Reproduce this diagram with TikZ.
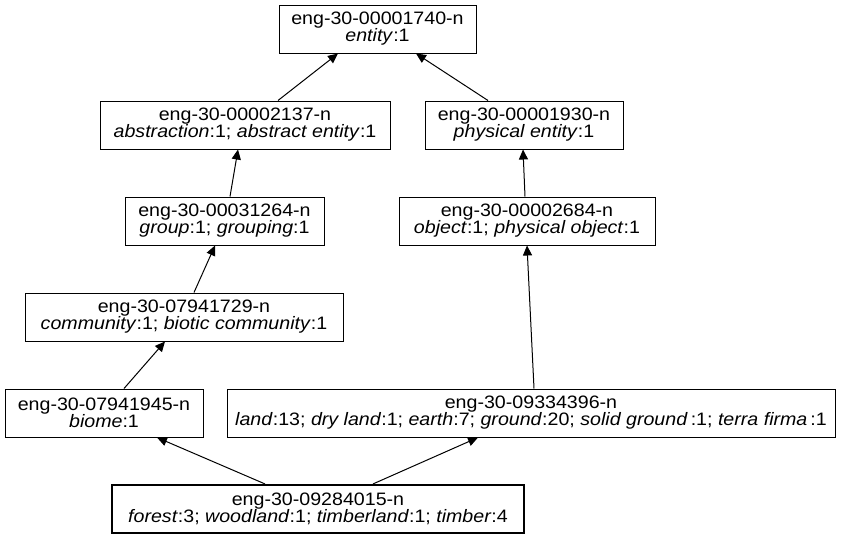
\documentclass[tikz,border=0pt]{standalone}
\usepackage{fontspec}
\setmainfont{Liberation Sans}[FakeStretch=1.09]
\usetikzlibrary{arrows.meta}
\tikzset{
  box/.style={draw=black, line width=0.75pt, fill=white, inner sep=0pt, align=center,
    minimum height=0.75pt*48, font=\fontsize{13.5pt}{12.75pt}\selectfont},
  mainbox/.style={box, line width=1.6pt},
  arr/.style={draw=black, line width=0.75pt, -{Triangle[length=7.5pt,width=6.8pt]}}
}
\begin{document}
\begin{tikzpicture}[x=0.75pt,y=-0.75pt]
\path[use as bounding box, fill=white] (0,0) rectangle (845,539);
\node[box, minimum width=0.75pt*197] (entity) at (377.5,29) {eng-30-00001740-n\\\textit{entity}:1};
\node[box, minimum width=0.75pt*290] (abstr) at (245,125) {eng-30-00002137-n\\\textit{abstraction}:1; \textit{abstract entity}:1};
\node[box, minimum width=0.75pt*198] (phys) at (524,125) {eng-30-00001930-n\\\textit{physical entity}:1};
\node[box, minimum width=0.75pt*199] (group) at (224.5,221) {eng-30-00031264-n\\\textit{group}:1; \textit{grouping}:1};
\node[box, minimum width=0.75pt*256] (object) at (527,221) {eng-30-00002684-n\\\textit{object}:1; \textit{physical object}:1};
\node[box, minimum width=0.75pt*318] (comm) at (184,317) {eng-30-07941729-n\\\textit{community}:1; \textit{biotic community}:1};
\node[box, minimum width=0.75pt*198] (biome) at (104,413) {eng-30-07941945-n\\\textit{biome}:1};
\node[box, minimum width=0.75pt*608] (land) at (531,413) {eng-30-09334396-n\\\textit{land}:13; \textit{dry land}:1; \textit{earth}:7; \textit{ground}:20; \textit{solid ground}\,:1; \textit{terra firma}\,:1};
\node[mainbox, minimum width=0.75pt*412] (forest) at (318,509) {eng-30-09284015-n\\\textit{forest}:3; \textit{woodland}:1; \textit{timberland}:1; \textit{timber}:4};
\draw[arr] ([xshift=0.75pt*33]abstr.north) -- ([xshift=-0.75pt*39.5]entity.south);
\draw[arr] ([xshift=-0.75pt*36]phys.north) -- ([xshift=0.75pt*38.5]entity.south);
\draw[arr] ([xshift=0.75pt*5.5]group.north) -- ([xshift=-0.75pt*7]abstr.south);
\draw[arr] ([xshift=-0.75pt*2]object.north) -- ([xshift=-0.75pt*1]phys.south);
\draw[arr] ([xshift=0.75pt*10]comm.north) -- ([xshift=-0.75pt*9.5]group.south);
\draw[arr] ([xshift=0.75pt*3]land.north) -- (object.south);
\draw[arr] ([xshift=0.75pt*20]biome.north) -- ([xshift=-0.75pt*19]comm.south);
\draw[arr] ([xshift=-0.75pt*53]forest.north) -- ([xshift=0.75pt*53]biome.south);
\draw[arr] ([xshift=0.75pt*55]forest.north) -- ([xshift=-0.75pt*53]land.south);
\end{tikzpicture}
\end{document}
